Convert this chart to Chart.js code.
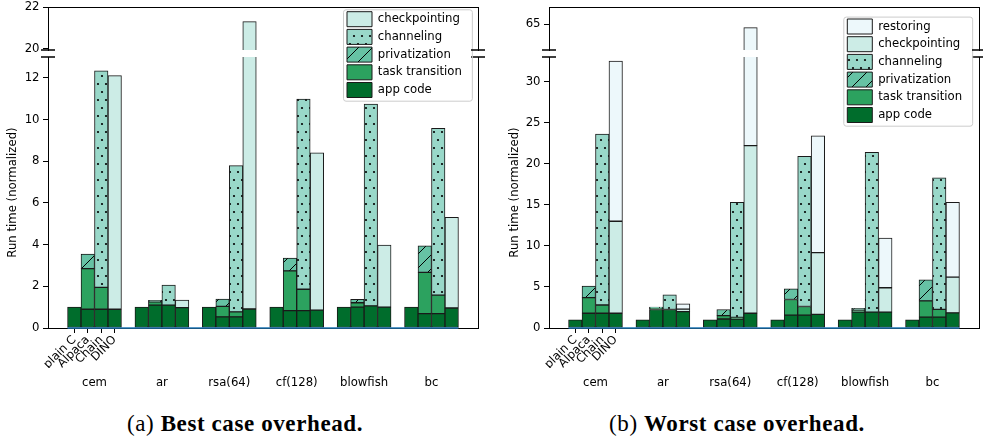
<!DOCTYPE html>
<html><head><meta charset="utf-8">
<script src="https://cdn.jsdelivr.net/npm/chart.js@4/dist/chart.umd.min.js"></script>
<style>
body{margin:0;background:#fff;}
#fig{position:relative;width:983px;height:445px;overflow:hidden;background:#fff;}
canvas{position:absolute;top:0;}
.cap{position:absolute;top:412px;font-family:'Liberation Serif',serif;font-size:23px;line-height:23px;text-align:center;color:#000;white-space:nowrap;letter-spacing:0.6px;}
</style></head><body>
<div id="fig">
<canvas id="aLow" width="490" height="395" style="left:0"></canvas>
<canvas id="aHigh" width="490" height="60" style="left:0"></canvas>
<canvas id="bLow" width="492" height="395" style="left:491px"></canvas>
<canvas id="bHigh" width="492" height="60" style="left:491px"></canvas>
<div class="cap" style="left:0;width:490px">(a) <b>Best case overhead.</b></div>
<div class="cap" style="left:491px;width:492px">(b) <b>Worst case overhead.</b></div>
</div>
<script>
// ---------------- data ----------------
const benchmarks = ['cem', 'ar', 'rsa(64)', 'cf(128)', 'blowfish', 'bc'];
const systems = ['plain C', 'Alpaca', 'Chain', 'DINO'];

const bestTicks = [0, 2, 4, 6, 8, 10, 12];
const bestUpperTicks = [20, 22];
const worstTicks = [0, 5, 10, 15, 20, 25, 30];
const worstUpperTicks = [65];

// segment heights, per benchmark: [plain C, Alpaca, Chain, DINO]
const bestAppCode        = [[1.0,0.90,0.90,0.90],[1.0,1.10,1.10,0.98],[1.0,0.53,0.53,0.91],[1.0,0.83,0.83,0.86],[1.0,1.00,1.06,1.00],[1.0,0.69,0.69,0.96]];
const bestTaskTransition = [[null,1.95,1.05,null],[null,0.15,null,null],[null,0.51,0.24,null],[null,1.91,1.03,null],[null,0.21,null,null],[null,1.98,0.89,null]];
const bestPrivatization  = [[null,0.69,null,null],[null,0.08,null,null],[null,0.35,null,null],[null,0.61,null,null],[null,0.17,null,null],[null,1.27,null,null]];
const bestChanneling     = [[null,null,10.39,null],[null,null,0.96,null],[null,null,7.02,null],[null,null,9.12,null],[null,null,9.68,null],[null,null,8.00,null]];
const bestCheckpointing  = [[null,null,null,11.21],[null,null,null,0.36],[null,null,null,20.39],[null,null,null,7.54],[null,null,null,2.98],[null,null,null,4.35]];

const worstAppCode        = [[1.0,1.80,1.80,1.80],[1.0,2.25,2.25,2.00],[1.0,1.10,1.10,1.80],[1.0,1.56,1.56,1.65],[1.0,1.93,1.93,1.93],[1.0,1.32,1.32,1.85]];
const worstTaskTransition = [[null,1.90,1.00,null],[null,0.15,null,null],[null,0.40,0.20,null],[null,1.91,1.06,null],[null,0.24,null,null],[null,1.98,0.94,null]];
const worstPrivatization  = [[null,1.40,null,null],[null,0.15,null,null],[null,0.75,null,null],[null,1.31,null,null],[null,0.24,null,null],[null,2.57,null,null]];
const worstChanneling     = [[null,null,20.8,null],[null,null,1.80,null],[null,null,14.0,null],[null,null,18.28,null],[null,null,19.47,null],[null,null,16.04,null]];
const worstCheckpointing  = [[null,null,null,11.2],[null,null,null,0.30],[null,null,null,20.4],[null,null,null,7.52],[null,null,null,2.97],[null,null,null,4.35]];
const worstRestoring      = [[null,null,null,19.5],[null,null,null,0.65],[null,null,null,42.4],[null,null,null,14.23],[null,null,null,6.05],[null,null,null,9.10]];

// ---------------- styling / layout ----------------
Chart.defaults.font.family = "'DejaVu Sans', sans-serif";
Chart.defaults.font.size = 11.7;
Chart.defaults.color = '#000';

const BAR_STEP = 0.2;
const X_MIN = -0.69, X_MAX = 5.69;
const FILL = {app:'#006d2c', task:'#2ca25f', priv:'#66c2a4', chan:'#99d8c9', ckpt:'#ccece6', rest:'#edf8fb'};

function dotPattern(bg){
  const c = document.createElement('canvas'); c.width = 8; c.height = 16;
  const g = c.getContext('2d'); g.fillStyle = bg; g.fillRect(0,0,8,16);
  g.fillStyle = '#000';
  [[2,4],[6,12]].forEach(([x,y]) => { g.beginPath(); g.arc(x,y,1.1,0,Math.PI*2); g.fill(); });
  return g.createPattern(c,'repeat');
}
function hatchPattern(bg){
  const n = 14, c = document.createElement('canvas'); c.width = n; c.height = n;
  const g = c.getContext('2d'); g.fillStyle = bg; g.fillRect(0,0,n,n);
  g.strokeStyle = '#000'; g.lineWidth = 1; g.beginPath();
  g.moveTo(-1,n+1); g.lineTo(n+1,-1);
  g.moveTo(-1,1); g.lineTo(1,-1);
  g.moveTo(n-1,n+1); g.lineTo(n+1,n-1);
  g.stroke();
  return g.createPattern(c,'repeat');
}
const PRIV_FILL = hatchPattern(FILL.priv);
const CHAN_FILL = dotPattern(FILL.chan);

function barX(b, s){ return b + (s - (systems.length - 1) / 2) * BAR_STEP; }
function toPoints(arr){
  const pts = [];
  arr.forEach((grp, b) => grp.forEach((v, s) => pts.push({x: barX(b, s), y: v})));
  return pts;
}

function buildDatasets(parts, withBaseline){
  const ds = parts.map(p => ({
    type:'bar', label:p.label, data:toPoints(p.values),
    backgroundColor:p.fill, borderColor:'#1a1a1a', borderWidth:1, borderSkipped:false,
    barPercentage:1, categoryPercentage:1, clip:0, xAxisID:'x', yAxisID:'y'
  }));
  if (withBaseline) {
    const left = barX(0, 0) - BAR_STEP / 2;
    const right = barX(benchmarks.length - 1, systems.length - 1) + BAR_STEP / 2;
    ds.push({type:'line', label:'_zero', data:[{x:left, y:0}, {x:right, y:0}],
      borderColor:'#1f77b4', borderWidth:1.5, pointRadius:0, clip:false, order:-1,
      xAxisID:'x', yAxisID:'y'});
  }
  return ds;
}

const decorPlugin = {
  id:'decor',
  afterLayout(chart, args, o){
    if (!o.legendAt || !chart.legend) return;
    const lg = chart.legend, pad = lg.options.labels.padding;
    lg.left = o.legendAt[0] - pad; lg.top = o.legendAt[1] - pad;
    lg.right = lg.left + lg.width; lg.bottom = lg.top + lg.height;
  },
  afterDraw(chart, args, o){
    const {ctx, chartArea:a} = chart;
    const px = v => Math.round(v - 0.5) + 0.5;
    ctx.save();
    ctx.strokeStyle = '#000'; ctx.lineWidth = 1; ctx.beginPath();
    if (o.top) { ctx.moveTo(a.left, px(a.top)); ctx.lineTo(a.right + 1, px(a.top)); }
    if (o.right) { ctx.moveTo(px(a.right), a.top); ctx.lineTo(px(a.right), a.bottom + 1); }
    ctx.stroke();
    if (o.breakAt) {
      const y = o.breakAt === 'top' ? a.top : a.bottom;
      ctx.lineWidth = 1.6; ctx.beginPath();
      [a.left, a.right].forEach(x => { ctx.moveTo(x - 7, y); ctx.lineTo(x + 7, y); });
      ctx.stroke();
    }
    if (o.legendAt && chart.legend && chart.legend.columnSizes) {
      const lg = chart.legend, pad = lg.options.labels.padding, col = lg.columnSizes[0];
      const x0 = o.legendAt[0] - 4, y0 = o.legendAt[1] - 2.4;
      const x1 = o.legendAt[0] + col.width + 10, y1 = o.legendAt[1] + col.height - pad + 3.2;
      ctx.strokeStyle = '#cccccc'; ctx.lineWidth = 1;
      ctx.beginPath(); ctx.roundRect(x0 + 0.5, y0 + 0.5, x1 - x0, y1 - y0, 2.5); ctx.stroke();
    }
    ctx.restore();
  }
};

function makeChart(canvas, cfg){
  const lower = cfg.part === 'lower';
  const scales = {
    x: {
      type:'linear', min:X_MIN, max:X_MAX, offset:false, stacked:true, weight:0,
      display: lower,
      afterBuildTicks: s => { s.ticks = systems.map((n, i) => ({value: barX(0, i)})); },
      ticks:{autoSkip:false, minRotation:45, maxRotation:45, padding:0, callback:(v, i) => systems[i]},
      grid:{offset:false, drawOnChartArea:false, tickLength:5, tickColor:'#000', tickWidth:1},
      border:{display:true, color:'#000', width:1},
      afterFit: s => { s.height = lower ? 40 : 0; s.paddingLeft = 0; s.paddingRight = 0; }
    },
    y: {
      type:'linear', min:cfg.yMin, max:cfg.yMax, stacked:true,
      afterBuildTicks: s => { s.ticks = cfg.ticks.map(v => ({value: v})); },
      ticks:{padding:3.5, callback: v => String(v)},
      grid:{drawOnChartArea:false, tickLength:5, tickColor:'#000', tickWidth:1},
      border:{display:true, color:'#000', width:1},
      title:{display: lower, text:'Run time (normalized)', padding:{top:cfg.titlePad, bottom:0}},
      afterFit: s => { s.width = cfg.yWidth; s.paddingTop = 0; s.paddingBottom = 0; }
    }
  };
  if (lower) {
    scales.x2 = {
      type:'linear', position:'bottom', min:X_MIN, max:X_MAX, offset:false, weight:1,
      afterBuildTicks: s => { s.ticks = benchmarks.map((b, i) => ({value: i})); },
      ticks:{autoSkip:false, minRotation:0, maxRotation:0, padding:8, callback:(v, i) => benchmarks[i]},
      grid:{display:false, drawTicks:false, offset:false},
      border:{display:false},
      afterFit: s => { s.height = 27; s.paddingLeft = 0; s.paddingRight = 0; }
    };
  }
  return new Chart(canvas, {
    type:'bar',
    data:{datasets: cfg.datasets},
    options:{
      responsive:false, animation:false, events:[],
      layout:{padding:{left:0, right:cfg.padRight, top: lower ? 57 : 7, bottom: lower ? 0 : 10}},
      scales,
      plugins:{
        tooltip:{enabled:false},
        legend: lower ? {
          display:true, position:'chartArea', align:'start', reverse:true,
          labels:{boxWidth:25, boxHeight:15, padding:2.7, color:'#000',
                  filter: item => !item.text.startsWith('_')}
        } : {display:false},
        decor: lower
          ? {right:true, breakAt:'top', legendAt:cfg.legendAt}
          : {top:true, right:true, breakAt:'bottom'}
      }
    },
    plugins:[decorPlugin]
  });
}

function bestParts(){ return [
  {label:'app code', values:bestAppCode, fill:FILL.app},
  {label:'task transition', values:bestTaskTransition, fill:FILL.task},
  {label:'privatization', values:bestPrivatization, fill:PRIV_FILL},
  {label:'channeling', values:bestChanneling, fill:CHAN_FILL},
  {label:'checkpointing', values:bestCheckpointing, fill:FILL.ckpt}
]; }
function worstParts(){ return [
  {label:'app code', values:worstAppCode, fill:FILL.app},
  {label:'task transition', values:worstTaskTransition, fill:FILL.task},
  {label:'privatization', values:worstPrivatization, fill:PRIV_FILL},
  {label:'channeling', values:worstChanneling, fill:CHAN_FILL},
  {label:'checkpointing', values:worstCheckpointing, fill:FILL.ckpt},
  {label:'restoring', values:worstRestoring, fill:FILL.rest}
]; }

makeChart(document.getElementById('aLow'), {part:'lower', datasets:buildDatasets(bestParts(), true),
  yMin:0, yMax:13, ticks:bestTicks, yWidth:48, padRight:12, titlePad:6, legendAt:[347, 11.7]});
makeChart(document.getElementById('aHigh'), {part:'upper', datasets:buildDatasets(bestParts(), false),
  yMin:19.95, yMax:22, ticks:bestUpperTicks, yWidth:48, padRight:12, titlePad:6});
makeChart(document.getElementById('bLow'), {part:'lower', datasets:buildDatasets(worstParts(), true),
  yMin:0, yMax:33, ticks:worstTicks, yWidth:58, padRight:4, titlePad:17, legendAt:[356.3, 19]});
makeChart(document.getElementById('bHigh'), {part:'upper', datasets:buildDatasets(worstParts(), false),
  yMin:62, yMax:67, ticks:worstUpperTicks, yWidth:58, padRight:4, titlePad:17});
</script>
</body></html>
